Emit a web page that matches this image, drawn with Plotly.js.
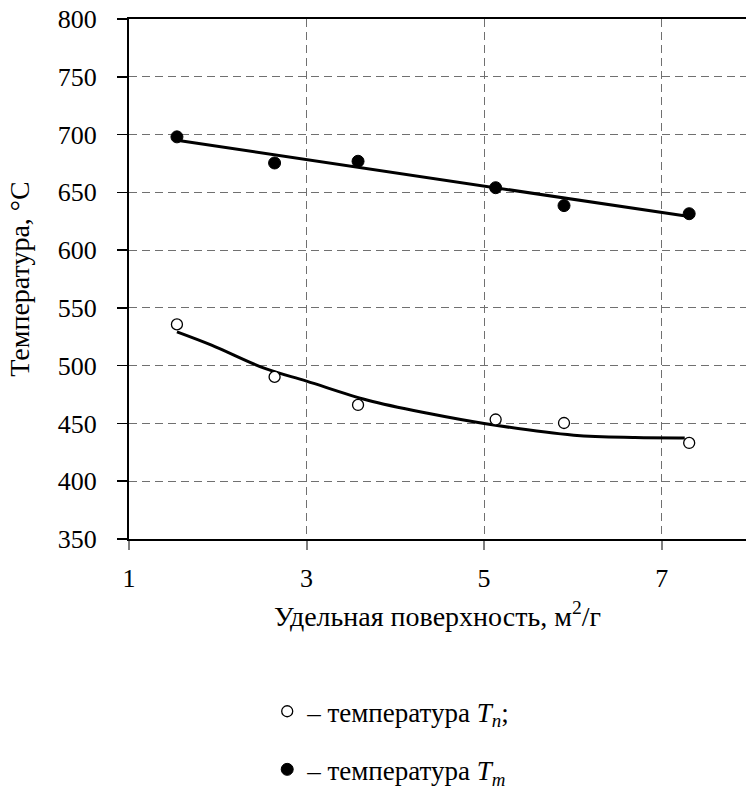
<!DOCTYPE html>
<html>
<head>
<meta charset="utf-8">
<script src="https://cdn.plot.ly/plotly-3.0.1.min.js"></script>
<style>html,body{margin:0;padding:0;background:#fff;}#chart{width:746px;height:800px;}</style>
</head>
<body>
<div id="chart"></div>
<script>
// Specific surface area, m2/g
const surfaceX = [1.54, 2.64, 3.58, 5.13, 5.90, 7.31];
// Temperature Tn (open circles), °C
const tempTn = [535.7, 490.3, 466.0, 453.4, 450.4, 433.1];
// Temperature Tm (filled circles), °C
const tempTm = [698.0, 675.4, 676.9, 654.0, 638.5, 631.5];
// Trend curve for Tn
const trendTnX = [1.54, 1.93, 2.53, 3.0, 3.69, 4.38, 5.0, 6.01, 6.70, 7.26];
const trendTnY = [529.3, 517.8, 497.6, 486.6, 470.1, 458.6, 450.0, 439.8, 437.8, 437.5];
// Linear trend for Tm
const trendTmX = [1.54, 7.31];
const trendTmY = [695.0, 629.0];
// Axis ticks
const xTicks = [1, 3, 5, 7];
const yTicks = [350, 400, 450, 500, 550, 600, 650, 700, 750, 800];

const serifFamily = 'Liberation Serif';

const traces = [
  {x: trendTnX, y: trendTnY, mode: 'lines', line: {color: '#000', width: 3, shape: 'spline'}, showlegend: false, hoverinfo: 'skip'},
  {x: trendTmX, y: trendTmY, mode: 'lines', line: {color: '#000', width: 3}, showlegend: false, hoverinfo: 'skip'},
  {x: surfaceX, y: tempTn, mode: 'markers', name: '– температура <i>T</i><sub><i>n</i></sub>;', legendgroup: 'a',
   marker: {symbol: 'circle', size: 11, color: '#fff', line: {color: '#000', width: 1.3}}},
  {x: surfaceX, y: tempTm, mode: 'markers', name: '– температура <i>T</i><sub><i>m</i></sub>', legendgroup: 'b',
   marker: {symbol: 'circle', size: 12, color: '#000', line: {color: '#000', width: 1}}}
];

const layout = {
  width: 746, height: 800,
  margin: {l: 129, r: 0, t: 19, b: 261, autoexpand: false},
  paper_bgcolor: '#fff', plot_bgcolor: '#fff',
  font: {family: serifFamily, size: 26, color: '#000'},
  showlegend: true,
  legend: {x: 0.224, xanchor: 'left', y: -0.285, yanchor: 'top', traceorder: 'grouped', tracegroupgap: 20,
           font: {family: serifFamily, size: 27, color: '#000'}, bgcolor: 'rgba(0,0,0,0)'},
  xaxis: {
    range: [1, 7.95], tickvals: xTicks, ticktext: xTicks.map(String), automargin: false,
    showgrid: true, gridcolor: '#707070', gridwidth: 1, griddash: '8px,5px',
    zeroline: false, showline: true, linecolor: '#000', linewidth: 2, mirror: true,
    ticks: 'outside', ticklen: 9, tickcolor: '#808080', tickwidth: 2, ticklabelstandoff: 6,
    tickfont: {family: serifFamily, size: 26, color: '#000'},
    title: {text: 'Удельная поверхность, м<sup>2</sup>/г', font: {family: serifFamily, size: 28, color: '#000'}, standoff: 14}
  },
  yaxis: {
    range: [350, 800], tickvals: yTicks, ticktext: yTicks.map(String), automargin: false,
    showgrid: true, gridcolor: '#707070', gridwidth: 1, griddash: '8px,5px',
    zeroline: false, showline: true, linecolor: '#000', linewidth: 2, mirror: false,
    ticks: 'outside', ticklen: 10, tickcolor: '#000', tickwidth: 1.5, ticklabelstandoff: 15,
    tickfont: {family: serifFamily, size: 26, color: '#000'},
    title: {text: 'Температура, °C', font: {family: serifFamily, size: 28, color: '#000'}, standoff: 20}
  }
};

Plotly.newPlot('chart', traces, layout, {displayModeBar: false, staticPlot: true});
</script>
</body>
</html>
